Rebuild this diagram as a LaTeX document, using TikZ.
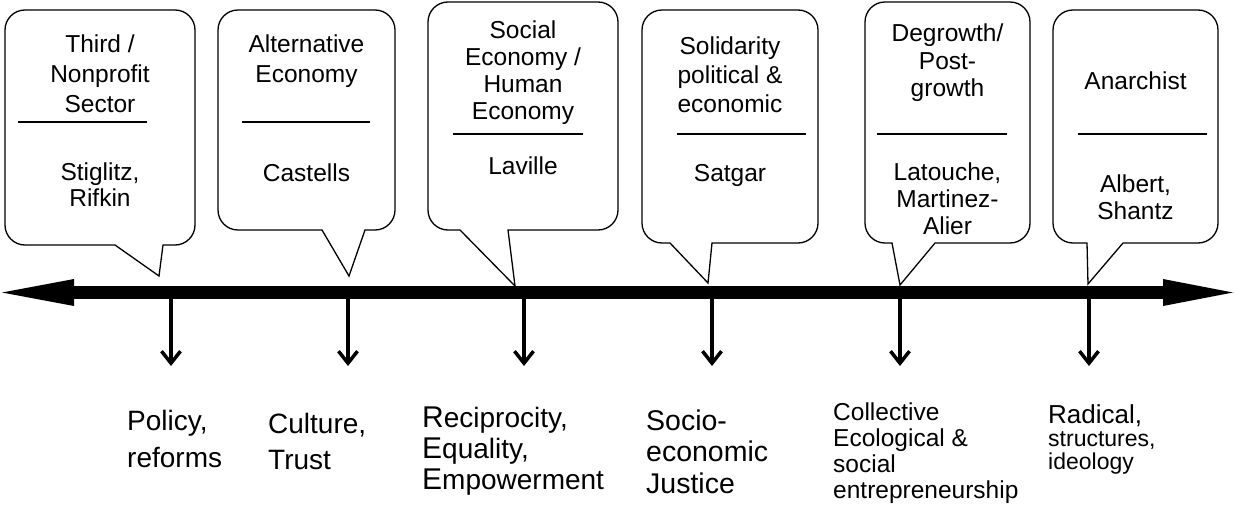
\documentclass[tikz,border=0pt]{standalone}
\usepackage{fontspec}
\setmainfont{Liberation Sans}
\usetikzlibrary{arrows.meta}

% left/centred stacks whose baseline is the first row's baseline
\newcommand\lines[2][c]{\begin{tabular}[t]{@{}#1@{}}#2\end{tabular}}
\newcommand\capl[1]{{\fontsize{30pt}{31pt}\selectfont #1}}

\tikzset{
  bubble/.style={draw=black, line width=1.3pt, fill=white, line join=miter},
  rule/.style={line width=1.3pt},
  ctext/.style={anchor=base, inner sep=0pt},
  cfont/.style={font={\fontsize{24.5pt}{#1}\selectfont}},
  lab/.style={anchor=base west, inner sep=0pt},
  axis/.style={line width=13pt,
    {Triangle[length=72pt,width=27pt,line width=0pt]}-{Triangle[length=70pt,width=27pt,line width=0pt]}},
  tick/.style={line width=3.5pt, -{Straight Barb[length=12pt,width=19pt]}}
}

\begin{document}
\begin{tikzpicture}[x=1pt,y=-1pt]
\useasboundingbox (0,0) rectangle (1234,508);

% speech bubbles: rounded box with a sharp pointer
\draw[bubble] (115,245) [rounded corners=20pt] -- (5,245) -- (5,10) -- (195,10) -- (195,245) [sharp corners] -- (163,245) -- (159,276) -- cycle;
\draw[bubble] (322,230) [rounded corners=20pt] -- (218,230) -- (218,10) -- (395,10) -- (395,230) [sharp corners] -- (365,230) -- (349,276) -- cycle;
\draw[bubble] (460,230) [rounded corners=20pt] -- (428,230) -- (428,2) -- (618,2) -- (618,230) [sharp corners] -- (508,230) -- (515,286) -- cycle;
\draw[bubble] (670,243) [rounded corners=20pt] -- (642,243) -- (642,10) -- (818,10) -- (818,243) [sharp corners] -- (712,243) -- (708,283) -- cycle;
\draw[bubble] (892,243) [rounded corners=20pt] -- (865,243) -- (865,2) -- (1030,2) -- (1030,243) [sharp corners] -- (935,243) -- (900,285) -- cycle;
\draw[bubble] (1087,243) [rounded corners=20pt] -- (1053,243) -- (1053,10) -- (1218,10) -- (1218,243) [sharp corners] -- (1123,243) -- (1088,284) -- cycle;

% dividing rules inside the bubbles
\draw[rule] (18,122) -- (147,122);
\draw[rule] (242,122) -- (370,122);
\draw[rule] (453,134) -- (583,134);
\draw[rule] (677,134) -- (806,134);
\draw[rule] (877,134) -- (1007,134);
\draw[rule] (1078,134) -- (1207,134);

% bubble texts
\node[ctext, cfont=30pt] (s1) at (100,53) {\lines{Third /\\Nonprofit\\Sector}};
\node[ctext, cfont=26pt] (a1) at (100,180) {\lines{Stiglitz,\\Rifkin}};
\node[ctext, cfont=30pt] (s2) at (306.5,53) {\lines{Alternative\\Economy}};
\node[ctext, cfont=30pt] (a2) at (306.5,182) {Castells};
\node[ctext, cfont=27pt] (s3) at (523,39) {\lines{Social\\Economy /\\Human\\Economy}};
\node[ctext, cfont=27pt] (a3) at (523,175) {Laville};
\node[ctext, cfont=29pt] (s4) at (730,55) {\lines{Solidarity\\political \&\\economic}};
\node[ctext, cfont=30pt] (a4) at (730,182) {Satgar};
\node[ctext, cfont=27.5pt] (s5) at (947.5,42) {\lines{Degrowth/\\Post-\\growth}};
\node[ctext, cfont=27.5pt] (a5) at (947.5,180) {\lines{Latouche,\\Martinez-\\Alier}};
\node[ctext, cfont=28pt] (s6) at (1135.5,90) {Anarchist};
\node[ctext, cfont=28pt] (a6) at (1135.5,192) {\lines{Albert,\\Shantz}};

% main axis
\coordinate (axl) at (2,292.5);
\coordinate (axr) at (1233,292.5);
\draw[axis] (axl) -- (axr);

% drop arrows
\foreach \i/\x in {1/171,2/348,3/524,4/712,5/900,6/1089}{
  \coordinate (k\i) at (\x,292.5);
  \coordinate (e\i) at (\x,366);
  \draw[tick] (k\i) -- (e\i);
}

% labels under the axis
\node[lab, font={\fontsize{28pt}{37pt}\selectfont}] (l1) at (127,430) {\lines[l]{Policy,\\reforms}};
\node[lab, font={\fontsize{28pt}{36pt}\selectfont}] (l2) at (268,433) {\lines[l]{Culture,\\Trust}};
\node[lab, font={\fontsize{28pt}{31pt}\selectfont}] (l3) at (422,427) {\lines[l]{\capl{R}eciprocity,\\\capl{E}quality,\\\capl{E}mpowerment}};
\node[lab, font={\fontsize{28.5pt}{31.5pt}\selectfont}] (l4) at (646,430) {\lines[l]{Socio-\\economic\\Justice}};
\node[lab, font={\fontsize{24.5pt}{26pt}\selectfont}] (l5) at (833,420) {\lines[l]{Collective\\Ecological \&\\social\\entrepreneurship}};
\node[lab, font={\fontsize{23pt}{23pt}\selectfont}] (l6) at (1048,423) {\lines[l]{{\fontsize{26pt}{26pt}\selectfont Radical,}\\structures,\\ideology}};
\end{tikzpicture}
\end{document}
